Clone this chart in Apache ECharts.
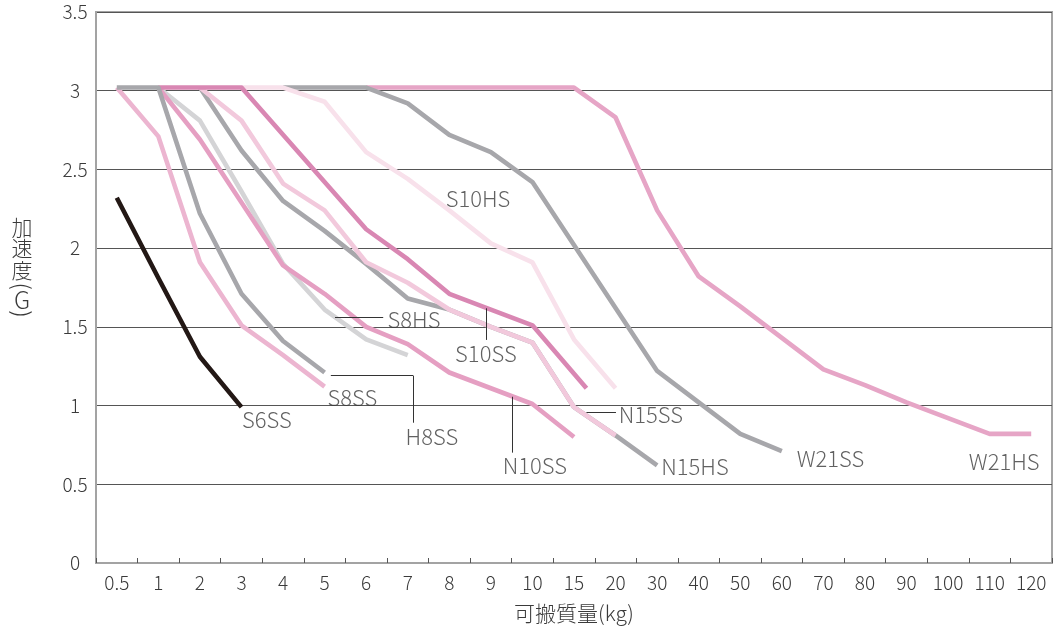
<!DOCTYPE html>
<html><head><meta charset="utf-8">
<script src="https://cdn.jsdelivr.net/npm/echarts@6/dist/echarts.min.js"></script>
<style>html,body{margin:0;padding:0;background:#fff}#c{width:1053px;height:634px}</style>
</head><body><div id="c"></div>
<script>
// x categories (kg) and their numeric values
const massLabels = ['0.5','1','2','3','4','5','6','7','8','9','10','15','20','30','40','50','60','70','80','90','100','110','120'];
const massKg = [0.5,1,2,3,4,5,6,7,8,9,10,15,20,30,40,50,60,70,80,90,100,110,120];
const gTicks = [0,0.5,1,1.5,2,2.5,3,3.5];

// series: [kg, G]
const W21HS = [[6,3.02],[7,3.02],[8,3.02],[9,3.02],[10,3.02],[15,3.02],[20,2.83],[30,2.24],[40,1.82],[50,1.63],[60,1.43],[70,1.23],[80,1.13],[90,1.02],[100,0.92],[110,0.82],[120,0.82]];
const W21SS = [[4,3.02],[5,3.02],[6,3.02],[7,2.92],[8,2.72],[9,2.61],[10,2.42],[15,2.02],[20,1.62],[30,1.22],[40,1.02],[50,0.82],[60,0.71]];
const S10HS = [[3,3.02],[4,3.02],[5,2.93],[6,2.61],[7,2.44],[8,2.24],[9,2.03],[10,1.91],[15,1.42],[20,1.11]];
const N15HS = [[2,3.02],[3,2.62],[4,2.30],[5,2.11],[6,1.90],[7,1.68],[8,1.61],[9,1.50],[10,1.40],[15,0.99],[20,0.81],[30,0.62]];
const N15SS = [[2,3.02],[3,2.81],[4,2.41],[5,2.24],[6,1.91],[7,1.78],[8,1.61],[9,1.50],[10,1.40],[15,0.99],[20,0.81]];
const S8HS  = [[1,3.02],[2,2.81],[3,2.36],[4,1.90],[5,1.61],[6,1.42],[7,1.32]];
const N10SS = [[1,3.02],[2,2.69],[3,2.29],[4,1.89],[5,1.71],[6,1.50],[7,1.39],[8,1.21],[9,1.11],[10,1.01],[15,0.80]];
const S10SS = [[1,3.02],[2,3.02],[3,3.02],[4,2.72],[5,2.42],[6,2.12],[7,1.93],[8,1.71],[9,1.61],[10,1.51],[16.5,1.11]];
const S8SS  = [[0.5,3.02],[1,2.71],[2,1.91],[3,1.51],[4,1.32],[5,1.12]];
const H8SS  = [[0.5,3.02],[1,3.02],[2,2.22],[3,1.71],[4,1.41],[5,1.21]];
const S6SS  = [[0.5,2.32],[1,1.81],[2,1.31],[3,0.99]];

// draw order bottom -> top
const seriesDefs = [
  ['W21HS', W21HS, '#e6a5c6'],
  ['W21SS', W21SS, '#a7a7ab'],
  ['S10HS', S10HS, '#f8e1eb'],
  ['N15HS', N15HS, '#a7a7ab'],
  ['N15SS', N15SS, '#f2c9dc'],
  ['S8HS',  S8HS,  '#d4d4d6'],
  ['N10SS', N10SS, '#e59fc2'],
  ['S10SS', S10SS, '#d987b3'],
  ['S8SS',  S8SS,  '#ecb5d0'],
  ['H8SS',  H8SS,  '#a7a7ab'],
  ['S6SS',  S6SS,  '#231815']
];

// label anchors (category-index space) and leader lines
const labelNames = ['S6SS','S8SS','H8SS','S8HS','S10SS','N10SS','S10HS','N15SS','N15HS','W21SS','W21HS'];
const labelAt = [[3.61,0.908],[5.67,1.051],[7.58,0.804],[7.15,1.544],[8.88,1.332],[10.06,0.616],[8.69,2.314],[12.85,0.940],[13.91,0.612],[17.17,0.663],[21.35,0.642]];
const leaders = [
  [[5.25,1.558],[6.41,1.558]],
  [[8.90,1.618],[8.90,1.417]],
  [[5.15,1.190],[7.13,1.190]],
  [[7.13,1.190],[7.13,0.891]],
  [[9.52,1.056],[9.52,0.701]],
  [[11.30,0.955],[12.01,0.955]]
];

function kgToIndex(kg){
  for (let i = 0; i < massKg.length - 1; i++) {
    if (kg <= massKg[i+1]) return i + (kg - massKg[i]) / (massKg[i+1] - massKg[i]);
  }
  return massKg.length - 1;
}

const FONT = '"Noto Sans CJK JP", "Noto Sans", sans-serif';
const TXT = '#3a3a3a';
const chart = echarts.init(document.getElementById('c'), null, {renderer:'canvas'});

const series = seriesDefs.map(([name, pts, color]) => ({
  name, type:'line', xAxisIndex:1, yAxisIndex:0,
  data: pts.map(p => [kgToIndex(p[0]), p[1]]),
  symbol:'none', smooth:false, silent:true,
  lineStyle:{color, width:4.6, cap:'butt', join:'round'},
  animation:false
}));

series.push({
  name:'labels', type:'scatter', xAxisIndex:1, yAxisIndex:0,
  data: labelNames.map((n,i) => ({name:n, value:labelAt[i]})),
  symbolSize:1, itemStyle:{color:'rgba(0,0,0,0)'}, silent:true, animation:false,
  label:{show:true, position:'inside', formatter:'{b}', color:TXT, fontSize:22, fontWeight:300, fontFamily:FONT},
  markLine:{
    silent:true, symbol:['none','none'], animation:false,
    label:{show:false},
    lineStyle:{color:'#333', width:1, type:'solid'},
    data: leaders.map(s => [{coord:s[0]},{coord:s[1]}])
  }
});

chart.setOption({
  backgroundColor:'#fff',
  animation:false,
  textStyle:{fontFamily:FONT},
  grid:{left:96, right:1, top:12, bottom:71, show:true, borderColor:'#a3a3a3', borderWidth:2, backgroundColor:'transparent'},
  xAxis:[{
    type:'category', data:massLabels, boundaryGap:true,
    name:'可搬質量(kg)', nameLocation:'middle', nameGap:40,
    nameTextStyle:{fontSize:21, color:TXT, fontWeight:300, fontFamily:FONT},
    axisLine:{show:true, onZero:false, lineStyle:{color:'#a3a3a3', width:2}},
    axisTick:{show:true, inside:true, length:5, lineStyle:{color:'#555', width:1}},
    axisLabel:{interval:0, margin:10, fontSize:19, color:TXT, fontWeight:300, fontFamily:FONT},
    splitLine:{show:false}
  },{
    type:'value', min:-0.5, max:22.5, show:false, splitLine:{show:false},
    axisLine:{show:false, onZero:false}
  }],
  yAxis:[{
    type:'value', min:0, max:3.5, interval:0.5,
    axisLine:{show:true, onZero:false, lineStyle:{color:'#a3a3a3', width:2}},
    axisTick:{show:false},
    axisLabel:{align:'center', margin:21, fontSize:19, color:TXT, fontWeight:300, fontFamily:FONT},
    splitLine:{show:true, lineStyle:{color:'#555', width:1}}
  }],
  graphic:[
    {type:'text', x:22, y:216, silent:true,
     style:{text:'加\n速\n度', fill:TXT, fontSize:21, fontWeight:300, fontFamily:FONT, lineHeight:21.5, align:'center', verticalAlign:'top'}},
    {type:'text', x:22, y:286, rotation:-Math.PI/2, silent:true,
     style:{text:'(', fill:TXT, fontSize:23, fontWeight:300, fontFamily:FONT, align:'center', verticalAlign:'middle'}},
    {type:'text', x:22, y:300, silent:true,
     style:{text:'G', fill:TXT, fontSize:24, fontWeight:300, fontFamily:FONT, align:'center', verticalAlign:'middle'}},
    {type:'text', x:22, y:314, rotation:-Math.PI/2, silent:true,
     style:{text:')', fill:TXT, fontSize:23, fontWeight:300, fontFamily:FONT, align:'center', verticalAlign:'middle'}}
  ],
  series
});
</script>
</body></html>
